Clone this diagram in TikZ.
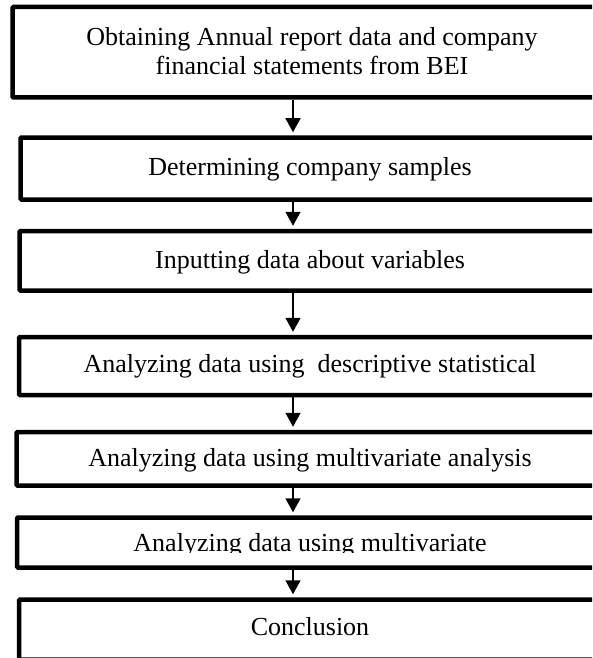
\documentclass[tikz,border=0pt]{standalone}
\usepackage{fontspec}
\setmainfont{Liberation Serif}
\usetikzlibrary{arrows.meta}
\begin{document}
\begin{tikzpicture}[x=1pt,y=-1pt,
  stepbox/.style={draw=black, line width=4.5pt, rounded corners=1pt, inner sep=0pt},
  lbl/.style={anchor=base, inner sep=0pt, align=center, font=\fontsize{26}{29.5}\selectfont},
  arr/.style={-{Triangle[width=15pt,length=14pt]}, line width=1.6pt, shorten >=3pt}]
\useasboundingbox (0,0) rectangle (592,658);
\fill[white] (0,0) rectangle (592,658);
\clip (0,0) rectangle (592,658);
\coordinate (ax) at (293,0);
% boxes
\node[stepbox, minimum width=597.5pt, minimum height=90.5pt] (b1) at (311.25,52.25) {};
\node[stepbox, minimum width=589.5pt, minimum height=62pt] (b2) at (315.25,168.5) {};
\node[stepbox, minimum width=590.5pt, minimum height=59.5pt] (b3) at (314.75,260.75) {};
\node[stepbox, minimum width=591pt, minimum height=58pt] (b4) at (314.5,366) {};
\node[stepbox, minimum width=593.5pt, minimum height=53.5pt] (b5) at (313.25,458.75) {};
\node[stepbox, minimum width=593pt, minimum height=50pt] (b6) at (313.5,542.5) {};
\node[stepbox, minimum width=591pt, minimum height=60pt] (b7) at (314.5,629.5) {};
% texts
\node[lbl] (t1) at (312,75) {Obtaining Annual report data and company\\financial statements from BEI};
\node[lbl] (t2) at (310,175) {Determining company samples};
\node[lbl] (t3) at (310,268) {Inputting data about variables};
\node[lbl] (t4) at (310,372) {Analyzing data using\ \ descriptive statistical};
\node[lbl] (t5) at (310,466) {Analyzing data using multivariate analysis};
\begin{scope}
  \clip (0,0) rectangle (592,552.5);
  \node[lbl] (t6) at (310,551) {Analyzing data using multivariate};
\end{scope}
\node[lbl] (t7) at (310,635) {Conclusion};
% arrows
\draw[arr] (b1.south -| ax) -- (b2.north -| ax);
\draw[arr] (b2.south -| ax) -- (b3.north -| ax);
\draw[arr] (b3.south -| ax) -- (b4.north -| ax);
\draw[arr] (b4.south -| ax) -- (b5.north -| ax);
\draw[arr] (b5.south -| ax) -- (b6.north -| ax);
\draw[arr] (b6.south -| ax) -- (b7.north -| ax);
\end{tikzpicture}
\end{document}
